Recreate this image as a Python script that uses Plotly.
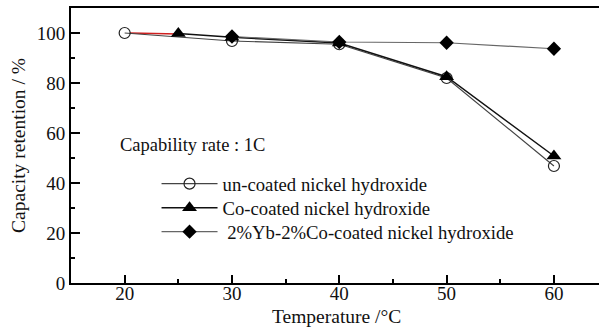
import plotly.graph_objects as go

temp_uncoated = [20, 30, 40, 50, 60]
ret_uncoated = [100, 96.8, 95.5, 82.0, 46.8]

temp_co = [25, 30, 40, 50, 60]
ret_co = [99.8, 98.3, 96.0, 82.5, 50.8]

temp_yb = [30, 40, 50, 60]
ret_yb = [98.6, 96.4, 96.1, 93.7]

temp_red = [20.5, 25]
ret_red = [100, 99.6]

names = ["un-coated nickel hydroxide", "Co-coated nickel hydroxide",
         "2%Yb-2%Co-coated nickel hydroxide"]

FONT = "Times New Roman, Liberation Serif, DejaVu Serif, serif"
TXT = "#111111"

fig = go.Figure()
fig.add_trace(go.Scatter(x=temp_red, y=ret_red, mode="lines",
                         line=dict(color="#d02020", width=1.5), showlegend=False))
fig.add_trace(go.Scatter(x=temp_uncoated, y=ret_uncoated, mode="lines+markers", name=names[0],
                         legend="legend",
                         line=dict(color="#444444", width=1.2),
                         marker=dict(symbol="circle-open", size=11, color="#222222",
                                     line=dict(width=1.2))))
fig.add_trace(go.Scatter(x=temp_co, y=ret_co, mode="lines+markers", name=names[1],
                         legend="legend2",
                         line=dict(color="#111111", width=1.5),
                         marker=dict(symbol="triangle-up", size=13, color="#000000")))
fig.add_trace(go.Scatter(x=temp_yb, y=ret_yb, mode="lines+markers", name=" " + names[2],
                         legend="legend3",
                         line=dict(color="#666666", width=1.2),
                         marker=dict(symbol="diamond", size=11, color="#000000")))

fig.add_annotation(x=19.35, y=55.2, xref="x", yref="y", text="Capability rate : 1C",
                   showarrow=False, xanchor="left", yanchor="middle",
                   font=dict(family=FONT, size=18.5, color=TXT))
fig.add_annotation(x=0.502, y=-0.12, xref="paper", yref="paper", text="Temperature /°C",
                   showarrow=False, xanchor="center", yanchor="middle",
                   font=dict(family=FONT, size=19.5, color=TXT))

leg_common = dict(xanchor="left", yanchor="middle", bgcolor="rgba(0,0,0,0)",
                  font=dict(family=FONT, size=18.7, color=TXT), itemwidth=56)

fig.update_layout(
    width=599, height=331,
    margin=dict(l=71, r=0, t=8, b=48),
    plot_bgcolor="white", paper_bgcolor="white",
    font=dict(family=FONT, size=18, color=TXT),
    showlegend=True,
    legend=dict(x=0.162, y=0.36, **leg_common),
    legend2=dict(x=0.162, y=0.2727, **leg_common),
    legend3=dict(x=0.162, y=0.1855, **leg_common),
    xaxis=dict(range=[15, 64.2], tickvals=[20, 30, 40, 50, 60],
               showline=True, linecolor="black", linewidth=2, mirror=True,
               ticks="inside", ticklen=8, tickwidth=2, tickcolor="black",
               minor=dict(tickvals=[25, 35, 45, 55], ticks="inside", ticklen=4, tickwidth=2, tickcolor="black"),
               showgrid=False, zeroline=False, ticklabelstandoff=-8,
               tickfont=dict(family=FONT, size=19, color=TXT)),
    yaxis=dict(range=[0, 110], tickvals=[0, 20, 40, 60, 80, 100],
               showline=True, linecolor="black", linewidth=2, mirror=False,
               ticks="inside", ticklen=9, tickwidth=2, tickcolor="black",
               minor=dict(tickvals=[10, 30, 50, 70, 90], ticks="inside", ticklen=4, tickwidth=2, tickcolor="black"),
               showgrid=False, zeroline=False,
               title=dict(text="Capacity retention / %", font=dict(family=FONT, size=19.5, color=TXT), standoff=6),
               tickfont=dict(family=FONT, size=19, color=TXT)),
)

fig.write_html("out.html", config={"displayModeBar": False},
               post_script="document.body.style.margin='0';document.body.style.overflow='hidden';")
